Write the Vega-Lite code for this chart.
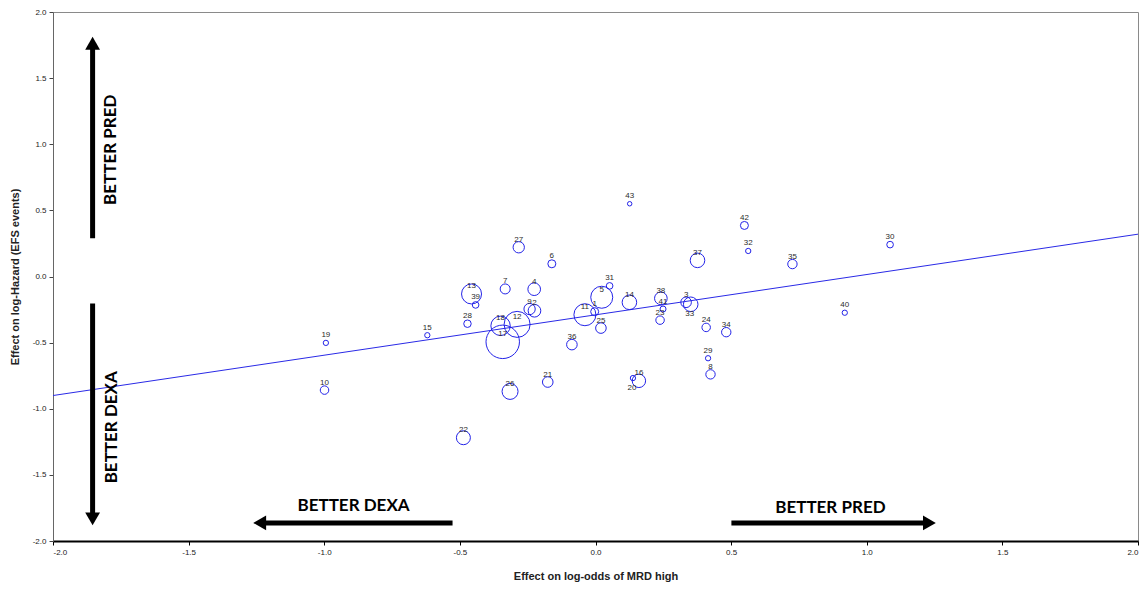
{
  "$schema": "https://vega.github.io/schema/vega-lite/v6.json",
  "width": 1085,
  "height": 529,
  "autosize": "none",
  "padding": {"left": 53, "top": 12, "right": 4, "bottom": 49},
  "background": "white",
  "config": {
    "font": "Liberation Sans",
    "view": {"stroke": "#8a8a8a", "strokeWidth": 1}
  },
  "datasets": {
    "studies": [
      {"id": 1, "dx": -0.003, "dy": -0.266, "weight": 16},
      {"id": 2, "dx": -0.225, "dy": -0.259, "weight": 40},
      {"id": 3, "dx": 0.334, "dy": -0.195, "weight": 28},
      {"id": 4, "dx": -0.226, "dy": -0.096, "weight": 40},
      {"id": 5, "dx": 0.023, "dy": -0.157, "weight": 121},
      {"id": 6, "dx": -0.161, "dy": 0.096, "weight": 16},
      {"id": 7, "dx": -0.333, "dy": -0.094, "weight": 25},
      {"id": 8, "dx": 0.424, "dy": -0.74, "weight": 22},
      {"id": 9, "dx": -0.243, "dy": -0.246, "weight": 32},
      {"id": 10, "dx": -0.999, "dy": -0.859, "weight": 18},
      {"id": 11, "dx": -0.039, "dy": -0.289, "weight": 121},
      {"id": 12, "dx": -0.289, "dy": -0.362, "weight": 169},
      {"id": 13, "dx": -0.457, "dy": -0.132, "weight": 100},
      {"id": 14, "dx": 0.125, "dy": -0.195, "weight": 53},
      {"id": 15, "dx": -0.62, "dy": -0.444, "weight": 7},
      {"id": 16, "dx": 0.16, "dy": -0.789, "weight": 45},
      {"id": 17, "dx": -0.342, "dy": -0.494, "weight": 280},
      {"id": 18, "dx": -0.35, "dy": -0.373, "weight": 94},
      {"id": 19, "dx": -0.994, "dy": -0.502, "weight": 7},
      {"id": 20, "dx": 0.138, "dy": -0.768, "weight": 7},
      {"id": 21, "dx": -0.176, "dy": -0.798, "weight": 28},
      {"id": 22, "dx": -0.487, "dy": -1.219, "weight": 49},
      {"id": 23, "dx": 0.238, "dy": -0.33, "weight": 18},
      {"id": 24, "dx": 0.408, "dy": -0.385, "weight": 18},
      {"id": 25, "dx": 0.02, "dy": -0.39, "weight": 28},
      {"id": 26, "dx": -0.315, "dy": -0.869, "weight": 64},
      {"id": 27, "dx": -0.283, "dy": 0.221, "weight": 32},
      {"id": 28, "dx": -0.472, "dy": -0.357, "weight": 14},
      {"id": 29, "dx": 0.415, "dy": -0.618, "weight": 7},
      {"id": 30, "dx": 1.086, "dy": 0.241, "weight": 11},
      {"id": 31, "dx": 0.052, "dy": -0.071, "weight": 11},
      {"id": 32, "dx": 0.563, "dy": 0.193, "weight": 7},
      {"id": 33, "dx": 0.351, "dy": -0.21, "weight": 53},
      {"id": 34, "dx": 0.482, "dy": -0.421, "weight": 22},
      {"id": 35, "dx": 0.726, "dy": 0.094, "weight": 22},
      {"id": 36, "dx": -0.087, "dy": -0.515, "weight": 28},
      {"id": 37, "dx": 0.376, "dy": 0.122, "weight": 53},
      {"id": 38, "dx": 0.241, "dy": -0.165, "weight": 40},
      {"id": 39, "dx": -0.442, "dy": -0.215, "weight": 11},
      {"id": 40, "dx": 0.919, "dy": -0.274, "weight": 7},
      {"id": 41, "dx": 0.249, "dy": -0.246, "weight": 9},
      {"id": 42, "dx": 0.549, "dy": 0.386, "weight": 16},
      {"id": 43, "dx": 0.126, "dy": 0.55, "weight": 5}
    ],
    "fit": [
      {"dx": -2.0, "dy": -0.9},
      {"dx": 2.0, "dy": 0.32}
    ],
    "arrows": [
      {"dir": "up", "x0": -1.854, "y0": 0.289, "x1": -1.854, "y1": 1.764},
      {"dir": "down", "x0": -1.854, "y0": -0.205, "x1": -1.854, "y1": -1.833},
      {"dir": "left", "x0": -0.527, "y0": -1.863, "x1": -1.238, "y1": -1.863},
      {"dir": "right", "x0": 0.501, "y0": -1.863, "x1": 1.231, "y1": -1.863}
    ],
    "notes": [
      {"text": "BETTER PRED", "x": -1.788, "y": 0.958, "vertical": true},
      {"text": "BETTER DEXA", "x": -1.781, "y": -1.14, "vertical": true},
      {"text": "BETTER DEXA", "x": -0.892, "y": -1.738, "vertical": false},
      {"text": "BETTER PRED", "x": 0.866, "y": -1.753, "vertical": false}
    ]
  },
  "layer": [
    {
      "data": {"name": "studies"},
      "mark": {"type": "point", "opacity": 0},
      "encoding": {
        "x": {
          "field": "dx", "type": "quantitative",
          "scale": {"domain": [-2, 2], "nice": false, "zero": false},
          "axis": {
            "title": "Effect on log-odds of MRD high",
            "values": [-2, -1.5, -1, -0.5, 0, 0.5, 1, 1.5, 2],
            "labelExpr": "replace(format(datum.value, '.1f'), '\u2212', '-')",
            "grid": false,
            "domainColor": "#000000", "domainWidth": 2,
            "tickColor": "#000000", "tickSize": 4,
            "labelFontSize": 8, "labelColor": "#222222", "labelPadding": 3,
            "titleFontSize": 11, "titleFontWeight": "bold", "titleColor": "#222222",
            "titlePadding": 14
          }
        },
        "y": {
          "field": "dy", "type": "quantitative",
          "scale": {"domain": [-2, 2], "nice": false, "zero": false},
          "axis": {
            "title": "Effect on log-Hazard (EFS events)",
            "values": [-2, -1.5, -1, -0.5, 0, 0.5, 1, 1.5, 2],
            "labelExpr": "replace(format(datum.value, '.1f'), '\u2212', '-')",
            "grid": false,
            "domainColor": "#666666", "domainWidth": 1,
            "tickColor": "#444444", "tickSize": 4,
            "labelFontSize": 8, "labelColor": "#222222", "labelPadding": 3,
            "titleFontSize": 11, "titleFontWeight": "bold", "titleColor": "#222222",
            "titlePadding": 12
          }
        }
      }
    },
    {
      "mark": {"type": "rule", "color": "#8c8c8c", "strokeWidth": 1},
      "encoding": {"y": {"datum": 0, "type": "quantitative"}}
    },
    {
      "mark": {"type": "rule", "color": "#8c8c8c", "strokeWidth": 1},
      "encoding": {"x": {"datum": 0, "type": "quantitative"}}
    },
    {
      "data": {"name": "fit"},
      "mark": {"type": "line", "color": "#2a2ae6", "strokeWidth": 1},
      "encoding": {
        "x": {"field": "dx", "type": "quantitative"},
        "y": {"field": "dy", "type": "quantitative"}
      }
    },
    {
      "data": {"name": "studies"},
      "mark": {"type": "point", "shape": "circle", "filled": false, "stroke": "#2323e8", "strokeWidth": 1, "opacity": 1},
      "encoding": {
        "x": {"field": "dx", "type": "quantitative"},
        "y": {"field": "dy", "type": "quantitative"},
        "size": {
          "field": "weight", "type": "quantitative", "legend": null,
          "scale": {"type": "linear", "domain": [0, 280], "range": [0, 1120], "zero": true}
        }
      }
    },
    {
      "data": {"name": "studies"},
      "transform": [{"filter": "datum.id != 33 && datum.id != 20"}],
      "mark": {"type": "text", "fontSize": 8, "color": "#2b2b2b", "baseline": "middle", "dy": -7.5},
      "encoding": {
        "x": {"field": "dx", "type": "quantitative"},
        "y": {"field": "dy", "type": "quantitative"},
        "text": {"field": "id", "type": "nominal"}
      }
    },
    {
      "data": {"name": "studies"},
      "transform": [{"filter": "datum.id == 33 || datum.id == 20"}],
      "mark": {"type": "text", "fontSize": 8, "color": "#2b2b2b", "baseline": "middle", "dy": 10, "dx": -1},
      "encoding": {
        "x": {"field": "dx", "type": "quantitative"},
        "y": {"field": "dy", "type": "quantitative"},
        "text": {"field": "id", "type": "nominal"}
      }
    },
    {
      "data": {"name": "arrows"},
      "mark": {"type": "rule", "color": "#000000", "strokeWidth": 5, "strokeCap": "butt"},
      "encoding": {
        "x": {"field": "x0", "type": "quantitative"},
        "y": {"field": "y0", "type": "quantitative"},
        "x2": {"field": "x1"},
        "y2": {"field": "y1"}
      }
    },
    {
      "data": {"name": "arrows"},
      "mark": {"type": "point", "filled": true, "color": "#000000", "opacity": 1, "size": 220},
      "encoding": {
        "x": {"field": "x1", "type": "quantitative"},
        "y": {"field": "y1", "type": "quantitative"},
        "shape": {
          "field": "dir", "type": "nominal", "legend": null,
          "scale": {"domain": ["up", "down", "left", "right"], "range": ["triangle-up", "triangle-down", "triangle-left", "triangle-right"]}
        }
      }
    },
    {
      "data": {"name": "notes"},
      "transform": [{"filter": "datum.vertical"}],
      "mark": {"type": "text", "font": "Lato", "fontWeight": "bold", "fontSize": 17, "color": "#000000", "angle": 270, "align": "center", "baseline": "middle"},
      "encoding": {
        "x": {"field": "x", "type": "quantitative"},
        "y": {"field": "y", "type": "quantitative"},
        "text": {"field": "text", "type": "nominal"}
      }
    },
    {
      "data": {"name": "notes"},
      "transform": [{"filter": "!datum.vertical"}],
      "mark": {"type": "text", "font": "Lato", "fontWeight": "bold", "fontSize": 17, "color": "#000000", "align": "center", "baseline": "middle"},
      "encoding": {
        "x": {"field": "x", "type": "quantitative"},
        "y": {"field": "y", "type": "quantitative"},
        "text": {"field": "text", "type": "nominal"}
      }
    }
  ]
}
